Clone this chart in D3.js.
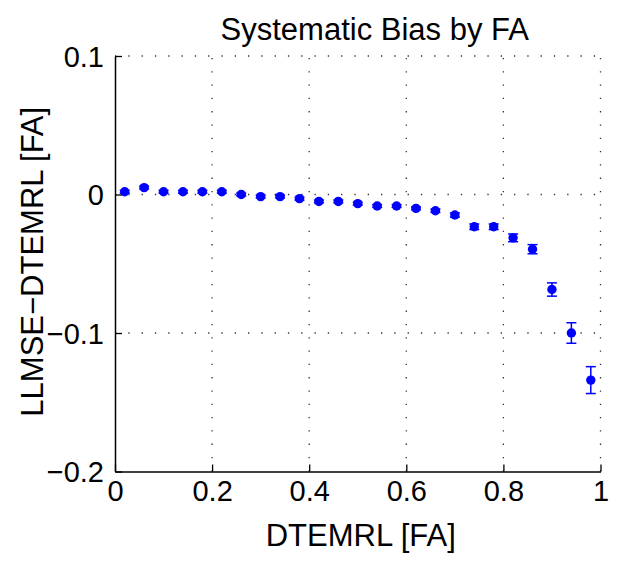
<!DOCTYPE html>
<html>
<head>
<meta charset="utf-8">
<script src="https://cdn.jsdelivr.net/npm/d3@7"></script>
<style>
  html, body { margin: 0; padding: 0; background: #fff; }
  svg { display: block; font-family: "Liberation Sans", Arial, Helvetica, sans-serif; }
</style>
</head>
<body>
<svg id="chart" width="617" height="562"></svg>
<script>
// ---- data ----
const xValues = [0.02, 0.06, 0.10, 0.14, 0.18, 0.22, 0.26, 0.30, 0.34, 0.38, 0.42, 0.46, 0.50,
                 0.54, 0.58, 0.62, 0.66, 0.70, 0.74, 0.78, 0.82, 0.86, 0.90, 0.94, 0.98];
const biasValues = [0.002, 0.005, 0.002, 0.002, 0.002, 0.002, 0.000, -0.0015, -0.0015, -0.003, -0.005, -0.005, -0.0066,
                    -0.0083, -0.0083, -0.010, -0.0117, -0.0148, -0.0233, -0.0233, -0.0313, -0.0395, -0.0686, -0.100, -0.134];
const errValues = [0.001, 0.001, 0.001, 0.001, 0.001, 0.001, 0.001, 0.001, 0.001, 0.001, 0.001, 0.001, 0.001,
                   0.001, 0.001, 0.001, 0.0012, 0.0015, 0.002, 0.002, 0.0028, 0.0033, 0.0048, 0.0074, 0.0097];
const xTicks = [0, 0.2, 0.4, 0.6, 0.8, 1];
const yTicks = [0.1, 0, -0.1, -0.2];
const xTickLabels = ["0", "0.2", "0.4", "0.6", "0.8", "1"];
const yTickLabels = ["0.1", "0", "\u22120.1", "\u22120.2"];
const titleText = "Systematic Bias by FA";
const xLabelText = "DTEMRL [FA]";
const yLabelText = "LLMSE\u2212DTEMRL [FA]";

(function () {
const points = xValues.map((x, i) => ({ x, y: biasValues[i], e: errValues[i] }));

// ---- layout ----
const svg = d3.select("#chart");
const pLeft = 115, pRight = 600.5, pTop = 56, pBottom = 471.5;

const x = d3.scaleLinear().domain([0, 1]).range([pLeft, pRight]);
const y = d3.scaleLinear().domain([-0.2, 0.1]).range([pBottom, pTop]);

const blue = "#0000ff";

// grid (dotted)
const grid = svg.append("g").attr("stroke", "#333").attr("stroke-width", 1.3)
  .attr("stroke-dasharray", "1.3,12");
xTicks.filter(t => t > 0).forEach(t => {
  grid.append("line").attr("x1", x(t)).attr("x2", x(t)).attr("y1", pBottom).attr("y2", pTop);
});
yTicks.filter(t => t > -0.2).forEach(t => {
  grid.append("line").attr("x1", pLeft).attr("x2", pRight).attr("y1", y(t)).attr("y2", y(t));
});

// axes
const xAxis = d3.axisBottom(x).tickValues(xTicks).tickSizeInner(-7).tickSizeOuter(0)
  .tickFormat((d, i) => xTickLabels[i]).tickPadding(9);
const yAxis = d3.axisLeft(y).tickValues(yTicks).tickSizeInner(-7).tickSizeOuter(0)
  .tickFormat((d, i) => yTickLabels[i]).tickPadding(11);

const gx = svg.append("g").attr("transform", `translate(0,${pBottom})`).call(xAxis);
const gy = svg.append("g").attr("transform", `translate(${pLeft},0)`).call(yAxis);
[gx, gy].forEach(g => {
  g.select(".domain").attr("stroke", "#000").attr("stroke-width", 1.5);
  g.selectAll(".tick line").attr("stroke", "#000").attr("stroke-width", 1.3);
  g.selectAll(".tick text").attr("fill", "#000").attr("font-size", 29)
    .attr("font-family", "Liberation Sans, Arial, sans-serif");
});
gx.selectAll(".tick text").attr("dy", "0.72em");
gy.selectAll(".tick text").attr("dy", "0.36em");

// error bars
const eb = svg.append("g").attr("stroke", blue).attr("stroke-width", 1.5).attr("fill", "none");
points.forEach(p => {
  const cx = x(p.x), y1 = y(p.y + p.e), y2 = y(p.y - p.e);
  eb.append("line").attr("x1", cx).attr("x2", cx).attr("y1", y1).attr("y2", y2);
  eb.append("line").attr("x1", cx - 5).attr("x2", cx + 5).attr("y1", y1).attr("y2", y1);
  eb.append("line").attr("x1", cx - 5).attr("x2", cx + 5).attr("y1", y2).attr("y2", y2);
});

// markers
svg.append("g").selectAll("circle").data(points).join("circle")
  .attr("cx", d => x(d.x)).attr("cy", d => y(d.y)).attr("r", 4.7).attr("fill", blue);

// title & labels
svg.append("text").attr("x", (pLeft + pRight) / 2 + 17).attr("y", 40).attr("text-anchor", "middle")
  .attr("font-size", 31).attr("fill", "#000").text(titleText);
svg.append("text").attr("x", (pLeft + pRight) / 2 + 3).attr("y", 546).attr("text-anchor", "middle")
  .attr("font-size", 31).attr("fill", "#000").text(xLabelText);
svg.append("text").attr("transform", `translate(43,${(pTop + pBottom) / 2 - 2}) rotate(-90)`)
  .attr("text-anchor", "middle").attr("font-size", 31).attr("fill", "#000").text(yLabelText);
})();
</script>
</body>
</html>
